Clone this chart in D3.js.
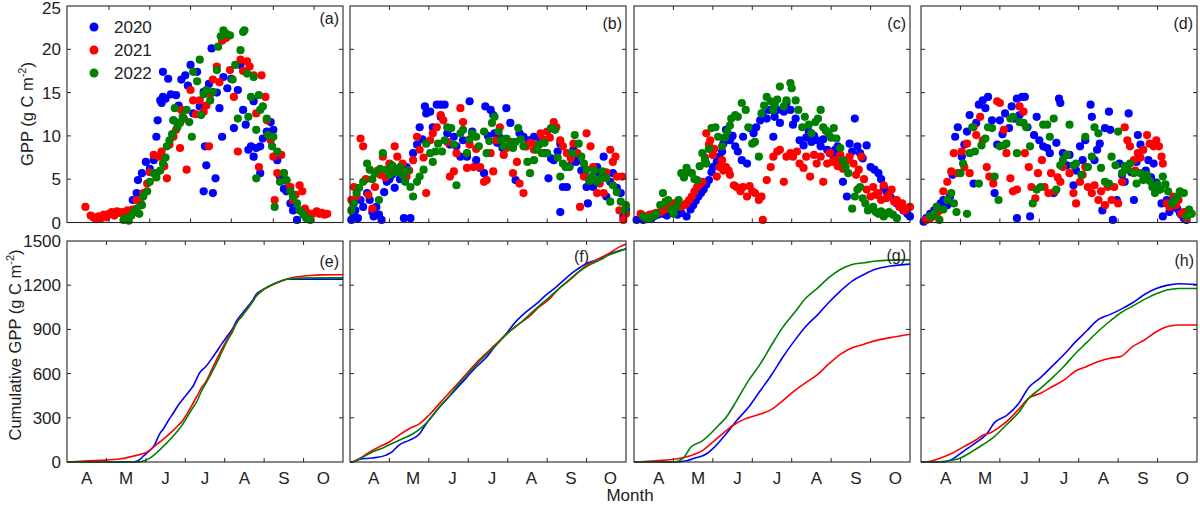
<!DOCTYPE html>
<html><head><meta charset="utf-8">
<script src="https://cdn.jsdelivr.net/npm/d3@7"></script>
<style>
body{margin:0;background:#fff}
svg{display:block}
text{font-family:"Liberation Sans",Arial,sans-serif;fill:#222}
</style>
</head><body>
<svg id="chart" width="1200" height="506"></svg>
<script>
// ---------------- data ----------------
const years = ["2020", "2021", "2022"];
const seriesColors = ["#0000ff", "#ff0000", "#008000"];
const monthLabels = ["A", "M", "J", "J", "A", "S", "O"];
const monthCenters = [105, 135, 165, 195, 225, 255, 285];   // day of year
const monthBounds = [120, 150, 180, 210, 240, 270];          // day of year
const monthBoundsA = [122, 153, 184, 215, 247, 278];         // day of year, panel (a) top axis
const gppTicks = [0, 5, 10, 15, 20, 25];
const cumTicks = [0, 300, 600, 900, 1200, 1500];
const topPanelLabels = ["(a)", "(b)", "(c)", "(d)"];
const bottomPanelLabels = ["(e)", "(f)", "(g)", "(h)"];

// daily GPP, [day of year, g C m-2]
const gppA2020 = [[138,1],[140,2.6],[143,3.4],[144,4.9],[147,5.7],[150,7],[153,6.2],[156,7.2],[158,9.9],[159,11.8],[161,14.1],[162,13.8],[163,14.5],[163,17.4],[165,14.3],[167,16.6],[169,14.8],[171,11.8],[173,14.7],[175,13.5],[177,16.5],[180,17],[182,15.8],[184,18.2],[186,12.6],[189,17.4],[191,13.4],[194,15.1],[195,8.8],[196,6.6],[194,3.6],[198,16],[200,20.1],[201,3.4],[203,5.1],[204,15],[206,13.2],[208,9.9],[209,16.8],[212,15.5],[215,16.6],[217,10.9],[220,15.3],[222,18.2],[224,13],[226,11.3],[228,8.4],[230,8.8],[232,7.6],[232,14],[234,8.6],[237,8.8],[237,5.7],[239,9.7],[242,10.5],[245,11.6],[247,10.7],[250,7.2],[252,5.3],[255,3.9],[257,3.6],[260,2.2],[262,1.4],[265,0.3],[269,1.2],[272,0.9]];
const gppA2021 = [[104,1.8],[108,0.8],[110,0.6],[112,0.4],[114,0.7],[116,0.5],[118,0.9],[120,0.6],[122,1.0],[124,1.2],[126,0.8],[128,1.3],[130,1.1],[132,1.2],[134,0.9],[136,1.4],[138,1.3],[140,1.5],[143,2.6],[146,2.2],[148,3.4],[151,4.5],[153,5.8],[156,7.8],[158,5.7],[160,7.6],[162,8.2],[164,6.5],[166,5.1],[168,9.0],[171,9.9],[173,10.7],[175,11.5],[176,8.6],[177,13],[179,12.0],[181,6.1],[184,15.3],[186,14.1],[188,12.5],[191,14.1],[194,12.8],[196,13.5],[198,8.8],[199,14.8],[201,16.5],[204,18],[206,16.2],[208,21],[211,21.3],[214,17.6],[217,14.5],[220,8.2],[222,18.8],[224,17.5],[227,18.6],[229,18],[232,17],[234,12.6],[236,6.4],[238,17],[241,14.5],[242,11.8],[245,9.5],[247,7.6],[248,2.6],[250,5.7],[253,7.8],[255,5.7],[257,4.8],[260,4.1],[262,2.6],[264,3.2],[267,4.3],[269,3.6],[271,1.6],[273,1.1],[275,0.7],[277,1.0],[280,1.3],[282,1.0],[284,1.1],[286,0.9],[288,1.0]];
const gppA2022 = [[133,0.3],[135,0.5],[137,0.2],[139,0.8],[141,1.2],[143,1.6],[145,1.0],[147,2.0],[148,3.0],[151,3.6],[153,4.7],[156,5.7],[158,5.2],[161,6.0],[163,6.8],[165,7.5],[166,8.8],[168,9.5],[170,10.2],[171,11.8],[172,13.2],[174,11.0],[176,11.5],[178,12.2],[181,13],[183,11.6],[185,9.9],[186,17.4],[189,16.3],[191,18.8],[192,12.4],[194,14.8],[196,15.3],[199,14.1],[201,15.1],[204,17.6],[205,20.3],[207,21.5],[209,22.2],[211,21.8],[214,21.6],[216,16.5],[218,18.2],[220,12],[222,19.9],[224,22],[225,22.2],[227,17.2],[228,12.2],[230,14.5],[232,16.8],[234,10.7],[234,5.1],[236,14.7],[237,13.0],[239,13.4],[242,12],[243,10.1],[246,8.8],[247,9.9],[248,1.8],[250,8.2],[252,4.7],[255,5.7],[257,4.9],[260,3.6],[262,3.0],[265,2.2],[267,1.4],[270,0.9],[272,0.5],[275,0.3]];

const gppB2020 = [[91,0.3],[93,1.0],[94,1.4],[96,0.5],[98,2.6],[100,1.8],[103,3.4],[105,2.6],[107,1.2],[108,0.7],[110,1.8],[112,0.9],[114,0.3],[116,3.5],[118,4.7],[120,5.0],[122,5.5],[124,4.0],[126,6.2],[128,5.0],[131,0.5],[133,6.4],[136,0.5],[138,8],[141,9],[143,11],[145,9.6],[147,13.4],[148,12.6],[151,12.8],[153,11.0],[156,13.6],[159,13.6],[159,12.2],[162,13.6],[164,10.3],[166,9.0],[169,9.9],[171,8.8],[174,7.6],[176,9.5],[179,7.6],[181,14],[183,10.5],[186,7.2],[189,6.3],[192,5.7],[193,13.4],[195,10.0],[197,13],[199,12.4],[200,10.3],[202,9.2],[204,9.8],[206,8.6],[209,13.2],[212,11.5],[214,8.9],[216,4.9],[219,10.3],[222,9.9],[224,8.8],[226,9.5],[230,9.9],[232,8.5],[235,9.5],[238,8.0],[241,5.1],[243,7.4],[245,7.2],[248,8.2],[250,9.1],[250,1.2],[252,4.1],[255,4.1],[257,6.5],[260,8.4],[262,7.0],[264,7.6],[266,6.0],[268,5.7],[270,4.1],[271,2.2],[273,5.0],[275,4.1],[278,6.4],[280,5.5],[283,7.6],[285,3],[288,4.7],[290,5.7],[293,4.0],[296,3.4],[298,0.7],[300,1.5]];
const gppB2021 = [[91,2.6],[93,4.1],[95,3.0],[98,9.7],[100,8.8],[102,5.0],[104,3.2],[107,1.6],[109,4.1],[111,6.0],[113,5.5],[115,7.6],[117,5.2],[120,6.8],[122,5.8],[124,8.8],[126,7.6],[128,6.1],[130,6.8],[133,5.3],[135,6.0],[138,7.2],[141,9.9],[143,8.4],[146,7.5],[148,3.4],[151,9.5],[153,10.3],[156,11.0],[159,12.4],[161,11.8],[164,9.3],[166,5.3],[169,5.9],[171,8.0],[174,13.2],[176,11.6],[179,6.3],[181,9.0],[184,6.4],[186,8.5],[189,6.4],[192,4.7],[194,4.9],[197,8.0],[199,5.9],[201,9.5],[204,11],[207,7.8],[209,8.6],[212,9.3],[214,5.7],[217,7.0],[219,4.5],[222,3.4],[224,8.8],[227,9.2],[230,8.4],[232,9.0],[235,10.3],[237,9.6],[240,10.5],[242,9.8],[245,11.6],[247,11],[250,9.5],[252,8.8],[255,8],[258,7.4],[260,9.1],[263,8.0],[265,1.8],[268,5.3],[270,10.3],[273,8.8],[275,6.4],[278,3.4],[280,4.5],[283,3.4],[285,5.8],[288,8.4],[290,7.0],[292,7.6],[293,5.3],[295,1.4],[297,5.3],[298,0.3],[300,1.0]];
const gppB2022 = [[91,1.4],[93,2.2],[95,3.4],[97,4.0],[100,4.7],[103,6.8],[105,6.1],[107,5.0],[109,5.7],[112,2.6],[113,6.2],[115,8],[118,6.1],[120,5.5],[122,6.6],[125,5.8],[128,6.4],[130,5.5],[132,4.7],[134,6.0],[136,4.1],[138,3],[141,4.7],[143,5.3],[146,6.1],[148,9.1],[151,8],[153,7.0],[155,8.2],[157,9.1],[160,8.2],[162,9.5],[164,11],[167,10.9],[169,9.0],[171,4.3],[174,10.3],[176,10.7],[179,8],[181,9.6],[183,10.3],[186,9.9],[188,8.8],[192,10.5],[194,8],[196,9.4],[198,11.5],[200,12.2],[203,10.5],[205,9.5],[207,8.8],[209,9.7],[212,9.0],[214,8.6],[216,9.3],[218,10.9],[220,9.6],[222,8.8],[225,7.0],[227,5.7],[230,7.2],[232,8.4],[234,9.0],[236,8],[238,9.2],[240,8],[243,10.9],[246,10.7],[248,7.5],[250,5.3],[252,6.8],[254,6.4],[257,6.4],[259,8.0],[261,10.1],[264,9.1],[266,7.6],[268,6.8],[270,6.1],[272,4.8],[274,5.3],[276,6.0],[278,4.7],[280,5.0],[282,5.9],[285,5.1],[288,2.4],[290,4.3],[293,3.5],[296,2.4],[299,1.4],[300,2.0]];

const gppC2020 = [[92,0.3],[95,0.5],[97,0.3],[100,0.6],[103,0.4],[105,0.7],[108,0.9],[112,1.0],[115,0.8],[118,1.3],[120,1.2],[123,0.9],[126,1.1],[130,0.7],[133,1.5],[135,2.0],[137,2.5],[139,3.0],[141,3.4],[143,3.8],[145,4.4],[147,4.9],[149,5.8],[150,6.4],[153,7.0],[155,7.6],[157,8.2],[158,9.1],[160,10.7],[161,9.6],[163,9.5],[165,10.0],[167,8.8],[169,8.2],[172,7.2],[173,9.9],[176,6.8],[178,10.9],[181,10.3],[183,11],[186,11.8],[188,12.6],[191,12],[193,13],[196,9.9],[197,12.2],[199,13],[201,11.5],[204,12.8],[206,13.8],[209,13],[211,11.3],[213,12.0],[216,9.5],[219,8.9],[221,9.8],[223,10.5],[225,9.3],[227,10.0],[229,9.5],[232,8.8],[234,9.6],[237,8.4],[239,8.0],[242,7.6],[243,8.4],[245,8.8],[247,7.0],[249,4.7],[252,3],[254,9.1],[256,8.2],[258,12],[260,8.8],[262,8],[264,7.4],[267,8.9],[270,6.4],[273,6.1],[276,5.7],[278,5.0],[280,4.1],[282,3.6],[285,3],[288,2.6],[290,2.2],[293,1.8],[295,1.4],[298,1.0],[300,0.7]];
const gppC2021 = [[95,1],[97,0.8],[100,0.7],[102,0.9],[105,1],[107,1.1],[110,1.2],[112,1.4],[115,1.6],[118,1.9],[120,2.2],[123,2.0],[125,1.8],[128,2.0],[130,2.2],[132,2.6],[134,3],[136,3.6],[138,4.1],[140,4.4],[142,4.7],[144,7.5],[145,10.3],[147,9.0],[148,9.5],[150,7.8],[151,8.5],[153,5.3],[155,6.4],[157,7.2],[158,6.0],[160,6.4],[162,6.0],[163,5.5],[166,4.3],[168,4.1],[171,3.6],[173,4.1],[176,3],[178,4.2],[180,3.6],[182,3.4],[185,2.6],[187,3.0],[188,0.3],[191,4.9],[194,6.4],[196,7.6],[199,8.2],[201,8.4],[204,4.7],[206,7.6],[209,8],[211,7.6],[214,8.2],[216,6.8],[219,6.3],[221,7.6],[224,5.3],[227,7.8],[229,6.8],[232,7.6],[234,4.7],[237,6.8],[239,8],[241,7.0],[243,7.2],[245,6.5],[247,7.8],[249,6.2],[252,7.2],[254,7.6],[257,6.8],[259,5.5],[261,6.1],[263,7.6],[265,5.0],[267,3.8],[270,3],[272,4.1],[274,3.2],[276,3.4],[278,2.6],[280,4.3],[282,2.8],[284,3.2],[286,3.8],[288,2.4],[290,2.6],[292,1.8],[294,2.2],[296,1.4],[298,1.6],[300,1.8]];
const gppC2022 = [[97,0.7],[100,0.4],[102,0.5],[105,0.8],[107,1],[110,2.0],[112,3.4],[114,2.4],[116,2.6],[118,1.5],[120,1],[122,1.8],[124,2.6],[126,5.7],[128,5.2],[130,6.3],[132,5.8],[134,5.7],[136,5.0],[138,4.9],[140,6.5],[142,8],[144,7.2],[145,6.8],[147,8.5],[149,10.9],[152,11],[154,9.9],[157,8.8],[159,9.8],[161,10.5],[163,11.2],[164,12],[167,12.4],[169,12.2],[172,13.8],[175,13],[177,11],[180,9.1],[182,9.3],[185,7.6],[187,12.6],[189,13.5],[191,14.5],[194,14],[196,13.0],[197,13.6],[199,14.2],[201,15.7],[204,13.4],[206,14.1],[209,16.1],[210,15.5],[213,14.1],[215,13],[218,11],[220,12.2],[223,11.3],[225,10.3],[228,11.6],[230,12.0],[232,13],[234,11],[236,10.6],[238,10.3],[240,9.8],[242,10.9],[244,9.7],[247,8.6],[249,7.2],[251,6.4],[253,5.7],[256,1.6],[258,3.0],[260,3.8],[262,4.1],[264,2.8],[266,2.2],[268,1.4],[270,1.6],[272,1.8],[274,1.2],[276,1],[278,1.3],[280,0.7],[282,1.0],[284,1.2],[287,0.9],[290,0.5]];

const gppD2020 = [[92,0.1],[94,0.5],[97,1],[100,1.4],[102,1.8],[105,2.2],[107,2.6],[110,2.0],[112,3],[114,5.5],[116,9.9],[118,11],[121,7.6],[123,9.0],[125,10.5],[127,12.4],[130,4.5],[132,11.5],[134,13.6],[137,14.1],[139,13.2],[141,14.5],[144,11.8],[146,3.4],[148,9.0],[150,11.8],[152,10.2],[154,12.6],[157,10.9],[159,13.4],[161,12.0],[163,14.3],[163,0.5],[165,12.4],[167,14.5],[169,14.5],[171,11.0],[173,0.7],[176,10.1],[178,12.2],[180,9.5],[183,8.8],[186,8.6],[188,8],[191,3.4],[193,9.2],[195,14.3],[196,13.8],[198,8.0],[201,6.6],[203,7.8],[206,4.3],[208,6.0],[211,8.8],[213,7.2],[215,9.5],[219,13.6],[220,12.2],[222,7.2],[224,8.4],[226,9.1],[228,1.4],[230,10.9],[233,12.8],[234,10.7],[236,0.3],[239,2.6],[241,6.8],[243,5.5],[245,4.7],[248,12.6],[250,5.8],[252,2.6],[254,7.0],[255,10.1],[257,9.0],[259,8.4],[261,6.0],[263,7.2],[265,5.2],[267,6.8],[269,4.6],[271,3.8],[273,2.2],[274,0.7],[277,2.6],[279,1.2],[281,1.8],[283,2.4],[285,1.6],[287,1.1],[288,0.9],[290,0.5],[292,0.3]];
const gppD2021 = [[94,0.3],[97,0.5],[99,0.7],[102,1.0],[104,1.4],[107,3.6],[110,4.7],[113,5.9],[115,8],[118,5.7],[121,8.2],[123,6.4],[125,9.1],[127,5.7],[130,11],[132,10.1],[135,12.2],[137,9.5],[140,6.4],[142,5.3],[145,4.5],[148,14],[150,13.8],[153,10.7],[155,8],[158,5.1],[160,3.6],[163,3.8],[165,13.4],[168,12.8],[169,8],[172,6.4],[174,4.1],[177,2.8],[179,5.7],[182,7.2],[184,4.1],[187,3.4],[189,5.7],[192,3.6],[194,5.2],[196,4.7],[198,6.4],[201,7.8],[203,5.7],[206,3.4],[208,2.2],[211,4.7],[213,5.5],[215,6.4],[217,4.1],[220,3.4],[222,4.3],[225,2.6],[227,3.6],[230,2],[232,4.1],[235,2.6],[237,4.1],[240,2.2],[243,4.7],[245,11],[247,9.5],[249,8.8],[252,7.2],[253,6.0],[255,8],[257,7.5],[259,8.4],[262,10.1],[264,9.1],[267,8.8],[269,9.5],[271,8.8],[273,7.6],[274,6.8],[277,2.2],[279,1.8],[282,3],[284,2.0],[286,2.6],[288,1],[290,1.2],[292,0.5]];
const gppD2022 = [[97,0.7],[100,1.0],[102,1.8],[104,0.3],[107,1.5],[110,2.6],[113,3.4],[115,2.2],[117,1.2],[120,5.7],[122,6.8],[125,1],[127,8],[129,11],[131,8.2],[134,4.5],[136,8.9],[139,9.7],[141,11],[144,10.9],[146,5.3],[149,2.6],[150,8.8],[153,8.9],[155,9.1],[158,12],[160,12.2],[163,8],[165,11.6],[168,11.5],[170,11],[173,8.8],[175,2.2],[178,3.8],[181,4.1],[183,11.3],[186,11.3],[188,9.9],[191,12],[193,3.8],[196,6.6],[198,7.2],[201,7.8],[203,11.3],[206,6.6],[208,6.8],[212,5.5],[215,9.9],[217,6.4],[220,7.6],[222,11],[225,10.3],[227,6.3],[230,4.7],[233,4.5],[235,7.6],[238,6.6],[240,10.5],[243,5.7],[245,6.5],[247,6.1],[249,6.8],[252,5.7],[254,4.5],[257,5.7],[259,4.9],[262,5.5],[264,4.8],[266,4.1],[268,3.4],[270,4.4],[272,3.8],[274,5.3],[276,4.4],[278,3.6],[281,2.2],[283,2.6],[285,3.0],[287,3.6],[290,3.4],[292,0.7],[294,1.5],[296,1]];

// cumulative GPP, [day of year, g C m-2]
const cumE2020 = [[90,0],[140,0],[144,8],[148,39],[152,70],[156,107],[161,198],[163,220],[167,280],[171,334],[175,390],[179,436],[183,480],[186,516],[191,607],[196,652],[200,700],[204,752],[208,805],[212,855],[216,905],[219,957],[223,1005],[227,1048],[231,1095],[234,1139],[238,1165],[242,1184],[246,1203],[250,1218],[254,1232],[257,1240],[262,1241],[300,1241]];
const cumE2021 = [[90,0],[100,5],[115,11],[130,20],[140,39],[148,57],[152,73],[155,95],[158,118],[162,145],[166,175],[170,208],[174,243],[178,280],[181,323],[185,385],[189,448],[192,500],[196,550],[200,625],[204,698],[208,770],[212,834],[216,895],[219,945],[223,990],[227,1036],[231,1085],[234,1127],[238,1160],[242,1184],[246,1203],[250,1218],[257,1241],[262,1252],[267,1259],[275,1266],[283,1270],[300,1271]];
const cumE2022 = [[90,0],[145,0],[148,6],[151,16],[155,38],[158,61],[162,95],[166,130],[170,168],[174,209],[178,255],[181,300],[185,358],[189,414],[192,475],[196,539],[200,605],[204,675],[208,750],[212,823],[216,885],[219,943],[223,990],[227,1036],[231,1085],[234,1127],[238,1160],[242,1184],[246,1203],[250,1218],[257,1240],[262,1245],[267,1248],[283,1250],[300,1250]];

const cumF2020 = [[90,0],[91,0],[97,18],[107,27],[117,45],[122,68],[127,113],[135,147],[143,192],[148,260],[155,340],[163,419],[171,498],[178,566],[186,645],[193,702],[201,792],[209,872],[216,951],[224,1019],[232,1075],[239,1132],[247,1189],[254,1245],[262,1302],[270,1347],[277,1370],[285,1404],[292,1426],[300,1448]];
const cumF2021 = [[90,0],[91,0],[97,23],[105,68],[112,102],[120,136],[127,181],[135,226],[143,260],[150,317],[158,396],[166,475],[173,543],[181,623],[188,690],[196,758],[204,826],[211,883],[219,940],[226,985],[234,1053],[242,1109],[249,1177],[257,1234],[264,1290],[272,1347],[280,1381],[287,1415],[295,1460],[300,1480]];
const cumF2022 = [[90,0],[91,0],[100,34],[107,68],[115,95],[122,125],[130,158],[138,192],[145,238],[150,283],[158,374],[166,453],[173,532],[181,611],[188,679],[196,747],[204,820],[211,883],[219,940],[226,996],[234,1060],[242,1121],[249,1177],[257,1238],[264,1290],[272,1336],[280,1370],[287,1404],[295,1431],[300,1446]];

const cumG2020 = [[90,0],[120,0],[130,8],[136,25],[145,54],[151,99],[160,190],[168,280],[177,370],[186,483],[195,596],[203,709],[212,822],[221,923],[230,1002],[238,1081],[247,1160],[256,1228],[265,1273],[273,1307],[285,1330],[300,1343]];
const cumG2021 = [[90,0],[107,9],[122,20],[133,43],[142,77],[151,144],[160,212],[165,246],[174,291],[186,325],[195,359],[203,415],[212,483],[221,540],[230,596],[238,664],[247,731],[256,776],[265,799],[273,822],[285,844],[300,867]];
const cumG2022 = [[90,0],[120,0],[128,32],[133,99],[142,144],[148,190],[154,246],[160,302],[168,415],[177,551],[186,664],[195,799],[203,912],[212,1013],[221,1115],[230,1183],[238,1250],[247,1307],[256,1341],[265,1352],[273,1363],[285,1370],[300,1372]];

const cumH2020 = [[90,0],[108,0],[114,20],[123,77],[132,133],[140,190],[146,269],[155,314],[164,393],[172,506],[181,573],[190,652],[199,731],[207,810],[216,889],[225,968],[234,1002],[242,1036],[251,1081],[260,1137],[269,1178],[277,1199],[286,1210],[300,1205]];
const cumH2021 = [[90,0],[97,5],[105,27],[114,61],[123,106],[132,151],[137,182],[143,198],[149,232],[158,298],[164,355],[172,433],[181,467],[190,512],[199,557],[207,614],[216,648],[225,682],[234,704],[242,716],[251,783],[260,828],[269,884],[277,918],[286,930],[300,930]];
const cumH2022 = [[90,0],[100,0],[108,5],[120,27],[129,72],[137,117],[146,174],[155,253],[164,332],[172,433],[181,500],[190,573],[199,652],[207,731],[216,810],[225,889],[234,957],[242,1013],[251,1058],[260,1104],[269,1142],[277,1167],[286,1178],[300,1178]];

const topSeries = [
  [gppA2020, gppA2021, gppA2022],
  [gppB2020, gppB2021, gppB2022],
  [gppC2020, gppC2021, gppC2022],
  [gppD2020, gppD2021, gppD2022]
];
const bottomSeries = [
  [cumE2020, cumE2021, cumE2022],
  [cumF2020, cumF2021, cumF2022],
  [cumG2020, cumG2021, cumG2022],
  [cumH2020, cumH2021, cumH2022]
];

// ---------------- layout ----------------
const svg = d3.select("#chart");
const panelLeft = [67, 350, 634, 921];
const panelW = 276;
const topRow = {y0: 6, y1: 222.5};
const botRow = {y0: 241, y1: 462};
const tickLen = 4;
const frameColor = "#262626";
const fontSize = 17;
const botLabelPos = [[339, 267], [589, 262], [906, 261], [1194, 266]];
const monthLabelShift = [0, 4, 5, 5];

function drawFrame(g, x, y, w, h, xTicks, yTicks) {
  const t = g.append("g").attr("stroke", frameColor).attr("stroke-width", 1);
  xTicks.forEach(px => {
    t.append("line").attr("x1", px).attr("x2", px).attr("y1", y + h).attr("y2", y + h - tickLen);
    t.append("line").attr("x1", px).attr("x2", px).attr("y1", y).attr("y2", y + tickLen);
  });
  yTicks.forEach(py => {
    t.append("line").attr("x1", x).attr("x2", x + tickLen).attr("y1", py).attr("y2", py);
    t.append("line").attr("x1", x + w).attr("x2", x + w - tickLen).attr("y1", py).attr("y2", py);
  });
  g.append("rect").attr("x", x).attr("y", y).attr("width", w).attr("height", h)
    .attr("fill", "none").attr("stroke", frameColor).attr("stroke-width", 1.1);
}

panelLeft.forEach((x0, i) => {
  const x = d3.scaleLinear().domain([90, 300]).range([x0, x0 + panelW]);

  // ---- top row: daily GPP scatter ----
  const yT = d3.scaleLinear().domain([0, 25]).range([topRow.y1, topRow.y0]);
  const gT = svg.append("g");
  topSeries[i].forEach((ser, k) => {
    gT.append("g").selectAll("circle").data(ser).join("circle")
      .attr("cx", d => x(d[0])).attr("cy", d => yT(d[1])).attr("r", 4.1)
      .attr("fill", seriesColors[k]);
  });
  drawFrame(gT, x0, topRow.y0, panelW, topRow.y1 - topRow.y0,
    (i === 0 ? monthBoundsA : monthBounds).map(x), gppTicks.slice(1, -1).map(yT));
  gT.append("text").attr("x", x0 + panelW - 4).attr("y", i === 0 ? 24 : 29)
    .attr("text-anchor", "end").attr("font-size", 16).text(topPanelLabels[i]);
  if (i === 0) {
    gT.selectAll("text.yt").data(gppTicks).join("text").attr("class", "yt")
      .attr("x", x0 - 6).attr("y", d => Math.max(yT(d) + 6, 13.5)).attr("text-anchor", "end")
      .attr("font-size", fontSize).text(d => d);
  }

  // ---- bottom row: cumulative GPP ----
  const yB = d3.scaleLinear().domain([0, 1500]).range([botRow.y1, botRow.y0]);
  const gB = svg.append("g");
  const line = d3.line().x(d => x(d[0])).y(d => yB(d[1])).curve(d3.curveMonotoneX);
  bottomSeries[i].forEach((ser, k) => {
    gB.append("path").datum(ser).attr("d", line).attr("fill", "none")
      .attr("stroke", seriesColors[k]).attr("stroke-width", 1.6);
  });
  drawFrame(gB, x0, botRow.y0, panelW, botRow.y1 - botRow.y0,
    monthBounds.map(x), cumTicks.slice(1, -1).map(yB));
  gB.append("text").attr("x", botLabelPos[i][0]).attr("y", botLabelPos[i][1])
    .attr("text-anchor", "end").attr("font-size", 16).text(bottomPanelLabels[i]);
  gB.selectAll("text.mt").data(monthLabels).join("text").attr("class", "mt")
    .attr("x", (d, j) => x(monthCenters[j]) + monthLabelShift[i]).attr("y", 484)
    .attr("text-anchor", "middle").attr("font-size", fontSize).text(d => d);
  if (i === 0) {
    gB.selectAll("text.yt").data(cumTicks).join("text").attr("class", "yt")
      .attr("x", x0 - 6).attr("y", d => yB(d) + 6).attr("text-anchor", "end")
      .attr("font-size", fontSize).text(d => d);
  }
});

// legend (panel a)
const leg = svg.append("g");
years.forEach((yr, k) => {
  leg.append("circle").attr("cx", 94).attr("cy", 27 + k * 23).attr("r", 4.5).attr("fill", seriesColors[k]);
  leg.append("text").attr("x", 114).attr("y", 33 + k * 23).attr("font-size", fontSize).text(yr);
});

// axis titles
function yTitle(cx, cy, main) {
  const t = svg.append("text").attr("transform", `translate(${cx},${cy}) rotate(-90)`)
    .attr("text-anchor", "middle").attr("font-size", 16.5);
  t.append("tspan").text(main + " (g C m");
  t.append("tspan").attr("dy", -7).attr("font-size", 11).text("-2");
  t.append("tspan").attr("dy", 7).text(")");
}
yTitle(33, 114, "GPP");
yTitle(21, 345, "Cumulative GPP");
svg.append("text").attr("x", 630).attr("y", 501).attr("text-anchor", "middle")
  .attr("font-size", fontSize).text("Month");
</script>
</body></html>
